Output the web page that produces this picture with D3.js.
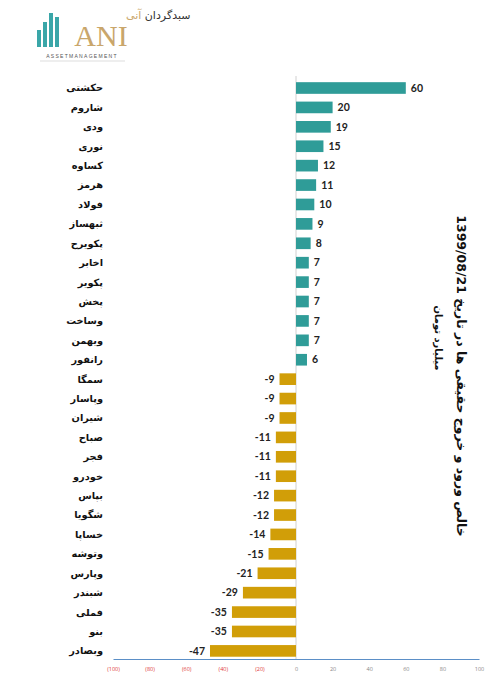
<!DOCTYPE html>
<html><head><meta charset="utf-8">
<script src="https://cdn.jsdelivr.net/npm/d3@7"></script>
<style>html,body{margin:0;padding:0;background:#fff;}svg{display:block;}</style>
</head><body>
<script>
const categories = ["حکشتی","شاروم","ودی","نوری","کساوه","هرمز","فولاد","ثبهساز","پکویرح","اخابر","پکویر","پخش","وساخت","ویهمن","رانفور","سمگا","وپاسار","شیران","صباح","فجر","خودرو","بپاس","شگویا","خساپا","وتوشه","وپارس","شبندر","فملی","بنو","وبصادر"];
const values = [60,20,19,15,12,11,10,9,8,7,7,7,7,7,6,-9,-9,-9,-11,-11,-11,-12,-12,-14,-15,-21,-29,-35,-35,-47];
const tickValues = [-100,-80,-60,-40,-20,0,20,40,60,80,100];
const titleText = "خالص ورود و خروج حقیقی ها در تاریخ 1399/08/21";
const subtitleText = "میلیارد تومان";

const W = 504, H = 687;
const svg = d3.select("body").append("svg").attr("width", W).attr("height", H);

const teal = "#2f9c98", gold = "#d19e08";

// logo
const logo = svg.append("g");
const lbars = [[37,30,4],[43,22,4],[49,13,4],[55,17,4]];
lbars.forEach(b => logo.append("rect").attr("x", b[0]).attr("y", b[1]).attr("width", b[2]).attr("height", 47 - b[1]).attr("fill", "#3aa6a8"));
logo.append("text").attr("x", 101).attr("y", 46).attr("text-anchor", "middle")
  .attr("font-family", "Liberation Serif").attr("font-size", 30).attr("fill", "#c9a66b").text("ANI");
logo.append("text").attr("x", 82).attr("y", 58).attr("text-anchor", "middle")
  .attr("font-family", "Liberation Sans").attr("font-size", 5).attr("letter-spacing", 1.3).attr("fill", "#555").text("ASSETMANAGEMENT");
logo.append("line").attr("x1", 40).attr("x2", 125).attr("y1", 61).attr("y2", 61).attr("stroke", "#ddd").attr("stroke-width", 1);
logo.append("text").attr("x", 126).attr("y", 19).attr("text-anchor", "end").attr("direction", "rtl")
  .attr("font-family", "DejaVu Sans").attr("font-size", 11)
  .html('<tspan fill="#333">سبدگردان </tspan><tspan fill="#c9a66b">آنی</tspan>');

// scales
const x = d3.scaleLinear().domain([-100, 100]).range([113, 479]);
const y = d3.scaleBand().domain(categories).range([78.3, 660.6]).paddingInner(0.4).paddingOuter(0.2);

// zero line
svg.append("line").attr("x1", x(0)).attr("x2", x(0)).attr("y1", 76).attr("y2", 659)
  .attr("stroke", "#d0d0d0").attr("stroke-width", 1);

const data = categories.map((c, i) => ({c, v: values[i]}));

svg.append("g").selectAll("rect").data(data).join("rect")
  .attr("x", d => x(Math.min(0, d.v)))
  .attr("width", d => Math.abs(x(d.v) - x(0)))
  .attr("y", d => y(d.c))
  .attr("height", y.bandwidth())
  .attr("fill", d => d.v >= 0 ? teal : gold);

svg.append("g").selectAll("text").data(data).join("text")
  .attr("x", d => d.v >= 0 ? x(d.v) + 5 : x(d.v) - 5)
  .attr("y", d => y(d.c) + y.bandwidth() / 2)
  .attr("dy", "0.35em")
  .attr("text-anchor", d => d.v >= 0 ? "start" : "end")
  .attr("font-family", "Lato, 'Open Sans', sans-serif").attr("font-weight", "bold")
  .attr("font-size", 10.5).attr("fill", "#222")
  .text(d => d.v);

// category labels
svg.append("g").selectAll("text").data(data).join("text")
  .attr("x", 103)
  .attr("y", d => y(d.c) + y.bandwidth() / 2)
  .attr("dy", "0.35em")
  .attr("text-anchor", "end")
  .attr("font-family", "'DejaVu Sans'").attr("font-weight", "bold")
  .attr("font-size", 9.8).attr("fill", "#111")
  .text(d => d.c);

// axis
const axis = d3.axisBottom(x).tickValues(tickValues).tickSize(0).tickPadding(8)
  .tickFormat(d => d < 0 ? "(" + Math.abs(d) + ")" : d);
const ag = svg.append("g").attr("transform", "translate(0,659)").call(axis);
ag.select(".domain").attr("stroke", "#5b8fc7").attr("stroke-width", 1);
ag.selectAll("text").attr("font-family", "'Open Sans', sans-serif").attr("font-size", 5.5)
  .attr("fill", d => d < 0 ? "#e03a3a" : "#888");

// titles
svg.append("text").attr("transform", "translate(461,376) rotate(90)")
  .attr("text-anchor", "middle").attr("dy", "0.35em").attr("direction", "rtl")
  .attr("font-family", "'DejaVu Sans'").attr("font-weight", "bold").attr("font-size", 12.5).attr("fill", "#111")
  .text(titleText);
svg.append("text").attr("transform", "translate(438,338) rotate(90)")
  .attr("text-anchor", "middle").attr("dy", "0.35em").attr("direction", "rtl")
  .attr("font-family", "'DejaVu Sans'").attr("font-weight", "bold").attr("font-size", 10).attr("fill", "#111")
  .text(subtitleText);
</script>
</body></html>
